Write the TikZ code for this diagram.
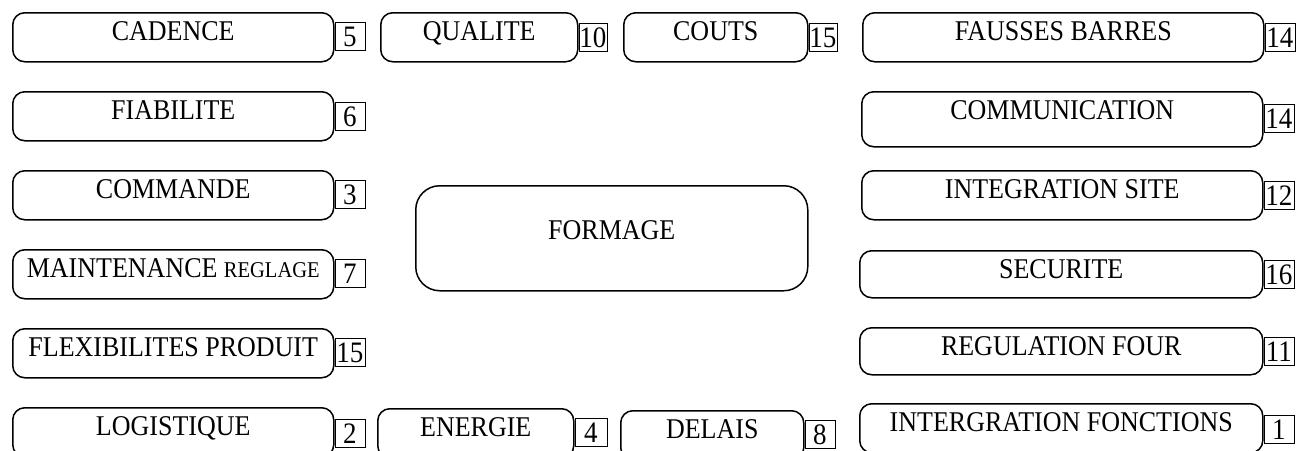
\documentclass[tikz,border=0pt]{standalone}
\usepackage{fontspec}
\setmainfont{Liberation Serif}
\newcommand\tall[1]{\scalebox{1}[1.1]{#1}}
\begin{document}
\begin{tikzpicture}[x=1pt,y=-1pt,
  item/.style={draw=black, line width=1.5pt, rounded corners=12pt, inner xsep=0pt, inner ysep=0pt,
    font=\fontsize{26}{30}\selectfont, text height=28pt, text depth=21pt, anchor=north west},
  bigitem/.style={item, rounded corners=24pt, text height=54pt, text depth=51pt},
  num/.style={draw=black, line width=0.9pt, inner sep=0pt, minimum width=30pt, minimum height=28pt,
    font=\fontsize{27}{30}\selectfont, anchor=north west}]
\useasboundingbox (0,0) rectangle (1298,450);
% left column
\node[item, minimum width=321pt] (cad) at (12,12) {\tall{CADENCE}};
\node[item, minimum width=321pt] (fia) at (12,91) {\tall{FIABILITE}};
\node[item, minimum width=321pt] (com) at (12,170) {\tall{COMMANDE}};
\node[item, minimum width=321pt] (mai) at (12,249) {\tall{MAINTENANCE {\fontsize{20.5}{24}\selectfont REGLAGE}}};
\node[item, minimum width=321pt] (fle) at (12,328) {\tall{FLEXIBILITES PRODUIT}};
\node[item, minimum width=321pt] (log) at (12,407) {\tall{LOGISTIQUE}};
% top row
\node[item, minimum width=197pt] (qua) at (380,12) {\tall{QUALITE}};
\node[item, minimum width=184pt] (cou) at (623,12) {\tall{COUTS}};
% right column
\node[item, minimum width=401pt] (fau) at (862,12) {\tall{FAUSSES BARRES}};
\node[item, minimum width=401pt, text depth=27pt] (comm) at (861,91) {\tall{COMMUNICATION}};
\node[item, minimum width=401pt] (ints) at (861,170) {\tall{INTEGRATION SITE}};
\node[item, minimum width=403pt, text depth=19pt] (sec) at (859,250) {\tall{SECURITE}};
\node[item, minimum width=403pt, text depth=19pt] (reg) at (859,327) {\tall{REGULATION FOUR}};
\node[item, minimum width=403pt] (intf) at (859,403) {\tall{INTERGRATION FONCTIONS}};
% bottom row
\node[item, minimum width=196pt] (ene) at (377,408) {\tall{ENERGIE}};
\node[item, minimum width=183pt] (del) at (620,410) {\tall{DELAIS}};
% centre
\node[bigitem, minimum width=392pt] (form) at (415,185) {\tall{FORMAGE}};
% numbers
\node[num] (n5) at ([yshift=-10pt]cad.north east) {\tall{5}};
\node[num] (n6) at ([yshift=-11pt]fia.north east) {\tall{6}};
\node[num] (n3) at ([yshift=-10pt]com.north east) {\tall{3}};
\node[num] (n7) at ([yshift=-10pt]mai.north east) {\tall{7}};
\node[num] (n15a) at ([yshift=-10pt]fle.north east) {\tall{15}};
\node[num] (n2) at ([yshift=-12pt]log.north east) {\tall{2}};
\node[num, minimum width=28pt] (n10) at ([yshift=-11pt]qua.north east) {\tall{10}};
\node[num, minimum width=28pt] (n15b) at ([yshift=-11pt]cou.north east) {\tall{15}};
\node[num] (n14a) at ([yshift=-11pt]fau.north east) {\tall{14}};
\node[num] (n14b) at ([yshift=-13pt]comm.north east) {\tall{14}};
\node[num] (n12) at ([yshift=-11pt]ints.north east) {\tall{12}};
\node[num] (n16) at ([yshift=-10pt]sec.north east) {\tall{16}};
\node[num] (n11) at ([yshift=-10pt]reg.north east) {\tall{11}};
\node[num] (n1) at ([yshift=-12pt]intf.north east) {\tall{1}};
\node[num, minimum width=32pt] (n4) at ([yshift=-10pt]ene.north east) {\tall{4}};
\node[num] (n8) at ([yshift=-10pt]del.north east) {\tall{8}};
\end{tikzpicture}
\end{document}
